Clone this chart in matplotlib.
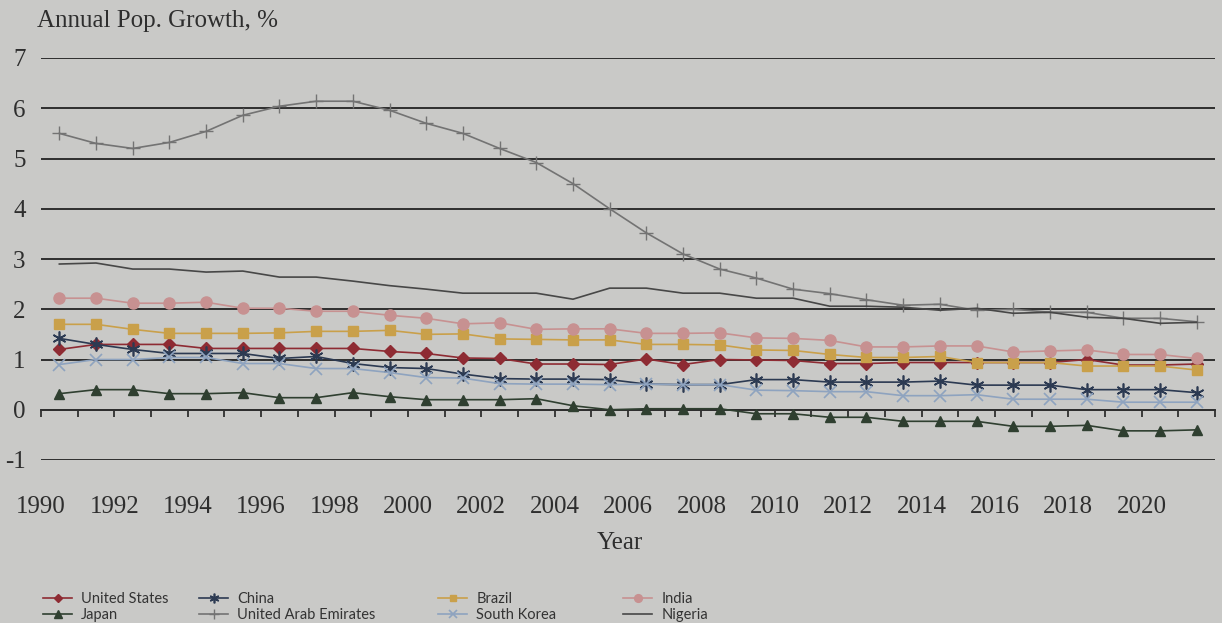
import numpy as np
import matplotlib.pyplot as plt

plt.rcParams["axes.unicode_minus"] = False

# Annual population growth (%), 1990-2021
years = np.arange(1990, 2022)

us = [1.2, 1.3, 1.3, 1.3, 1.22, 1.22, 1.22, 1.22, 1.22, 1.16,
      1.12, 1.03, 1.02, 0.91, 0.91, 0.9, 1.01, 0.9, 1.0, 0.99, 0.98,
      0.92, 0.92, 0.94, 0.94, 0.94, 0.94, 0.94, 1.0, 0.89, 0.89, 0.91]
japan = [0.32, 0.4, 0.4, 0.32, 0.32, 0.34, 0.24, 0.24, 0.34, 0.26,
         0.2, 0.2, 0.2, 0.22, 0.08, 0.0, 0.02, 0.02, 0.02, -0.08, -0.08,
         -0.15, -0.15, -0.23, -0.23, -0.23, -0.33, -0.33, -0.31, -0.42, -0.42, -0.4]
china = [1.42, 1.3, 1.2, 1.12, 1.12, 1.12, 1.02, 1.06, 0.92, 0.84,
         0.82, 0.71, 0.62, 0.61, 0.61, 0.6, 0.51, 0.5, 0.5, 0.6, 0.6,
         0.55, 0.55, 0.55, 0.57, 0.49, 0.49, 0.49, 0.4, 0.4, 0.4, 0.34]
uae = [5.5, 5.3, 5.2, 5.32, 5.54, 5.86, 6.04, 6.14, 6.14, 5.96,
       5.7, 5.5, 5.2, 4.92, 4.5, 4.0, 3.52, 3.1, 2.8, 2.62, 2.4,
       2.31, 2.19, 2.08, 2.1, 1.98, 2.0, 1.94, 1.94, 1.82, 1.82, 1.75]
brazil = [1.7, 1.7, 1.6, 1.52, 1.52, 1.52, 1.53, 1.56, 1.56, 1.58,
          1.5, 1.51, 1.41, 1.4, 1.39, 1.39, 1.3, 1.3, 1.29, 1.19, 1.18,
          1.1, 1.04, 1.04, 1.06, 0.94, 0.94, 0.94, 0.87, 0.87, 0.87, 0.79]
south_korea = [0.9, 1.0, 1.0, 1.04, 1.04, 0.92, 0.92, 0.82, 0.82, 0.74,
               0.64, 0.63, 0.52, 0.51, 0.51, 0.5, 0.51, 0.5, 0.5, 0.39, 0.38,
               0.36, 0.36, 0.28, 0.28, 0.3, 0.21, 0.21, 0.21, 0.15, 0.15, 0.15]
india = [2.22, 2.22, 2.12, 2.12, 2.14, 2.02, 2.02, 1.96, 1.96, 1.88,
         1.82, 1.71, 1.73, 1.6, 1.61, 1.61, 1.52, 1.52, 1.53, 1.43, 1.42,
         1.38, 1.25, 1.25, 1.27, 1.27, 1.15, 1.17, 1.19, 1.1, 1.1, 1.02]
nigeria = [2.9, 2.92, 2.8, 2.8, 2.74, 2.76, 2.64, 2.64, 2.56, 2.47,
           2.4, 2.32, 2.32, 2.32, 2.2, 2.42, 2.42, 2.32, 2.32, 2.22, 2.22,
           2.06, 2.06, 2.04, 1.98, 2.02, 1.92, 1.94, 1.84, 1.82, 1.72, 1.74]

paper = "#c9c9c7"
ink = "#2e2e2e"
serif = ["Liberation Serif", "DejaVu Serif"]

fig = plt.figure(figsize=(12.22, 6.23), dpi=100, facecolor=paper)
ax = fig.add_axes([41 / 1222, 1 - 460 / 623, 1174 / 1222, 402 / 623])
ax.set_facecolor(paper)

# points sit in the middle of each year slot
xs = years + 0.5
series = [
    ("United States", us, dict(color="#8e2b33", marker="D", ms=6)),
    ("Japan", japan, dict(color="#2f3f30", marker="^", ms=7.5)),
    ("China", china, dict(color="#2c3a52", marker=(6, 2, 0), ms=10, mew=1.2)),
    ("United Arab Emirates", uae, dict(color="#737373", marker="+", ms=10, mew=1.0)),
    ("Brazil", brazil, dict(color="#c9a04a", marker="s", ms=6.5)),
    ("South Korea", south_korea, dict(color="#8ea3bf", marker="x", ms=8, mew=1.2)),
    ("India", india, dict(color="#c79191", marker="o", ms=8)),
    ("Nigeria", nigeria, dict(color="#474747", marker=None)),
]
handles = []
for name, vals, st in series:
    h, = ax.plot(xs, vals, lw=1.2, label=name, zorder=3, **st)
    handles.append(h)

ax.set_xlim(1990, 2022)
ax.set_ylim(-1, 7)
ax.set_yticks(range(-1, 8))
ax.yaxis.grid(True, color=ink, lw=1.4)
ax.set_axisbelow(True)
ax.tick_params(axis="y", length=0, pad=11, labelsize=18, labelcolor=ink)
for t in ax.get_yticklabels():
    t.set_fontfamily(serif)

for s in ["top", "right", "left"]:
    ax.spines[s].set_visible(False)
ax.spines["bottom"].set_position(("data", 0))
ax.spines["bottom"].set_color(ink)
ax.spines["bottom"].set_linewidth(1.4)
ax.set_xticks(range(1990, 2023))
ax.tick_params(axis="x", direction="out", length=5, width=1.3, color=ink,
               labelbottom=False)

sec = ax.secondary_xaxis("bottom")
sec.set_xticks(range(1990, 2021, 2))
sec.spines["bottom"].set_visible(False)
sec.tick_params(length=0, pad=26, labelsize=18, labelcolor=ink)
for t in sec.get_xticklabels():
    t.set_fontfamily(serif)

fig.text(37 / 1222, 1 - 21 / 623, "Annual Pop. Growth, %", fontsize=18,
         family=serif, color=ink, va="center", ha="left")
fig.text(620 / 1222, 1 - 543 / 623, "Year", fontsize=18, family=serif,
         color=ink, va="center", ha="center")

# one small legend per column, as in the print
cols = [(0, 1, 36), (2, 3, 192), (4, 5, 431), (6, 7, 616)]
for i, j, px in cols:
    leg = fig.legend(handles=[handles[i], handles[j]], loc="upper left",
                     bbox_to_anchor=(px / 1222, 1 - 585 / 623), frameon=False,
                     prop=dict(family=["Lato", "DejaVu Sans"], size=10.5),
                     handlelength=2.0, handletextpad=0.6, labelspacing=0.1,
                     borderpad=0, markerscale=0.7, labelcolor="#333333")

fig.savefig("out.png", dpi=100, facecolor=paper)
